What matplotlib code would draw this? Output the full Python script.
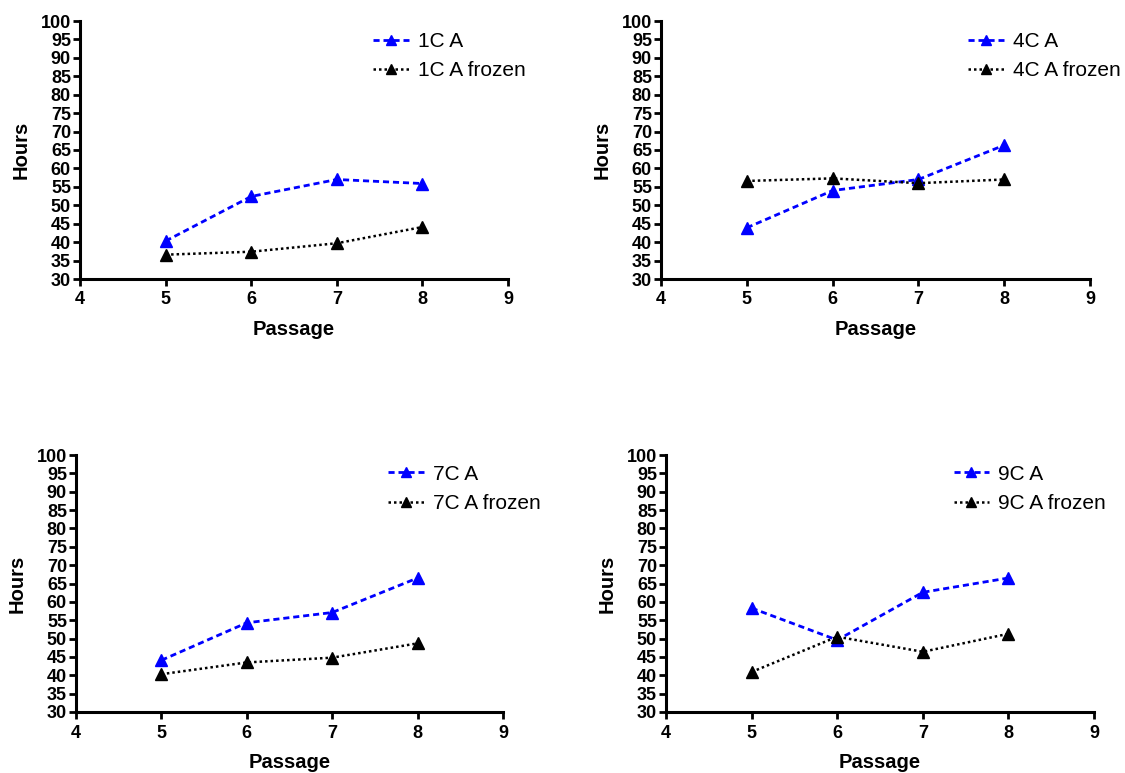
import matplotlib
matplotlib.use("Agg")
import matplotlib.pyplot as plt

plt.rcParams['font.family'] = ['Liberation Sans', 'DejaVu Sans']

passage = [5, 6, 7, 8]
x_ticks = [4, 5, 6, 7, 8, 9]
y_ticks = list(range(30, 101, 5))

labels_fresh = ["1C A", "4C A", "7C A", "9C A"]
labels_frozen = ["1C A frozen", "4C A frozen", "7C A frozen", "9C A frozen"]

hours_1c = [40.3, 52.4, 57.0, 55.9]
hours_1c_frozen = [36.6, 37.4, 39.7, 44.1]
hours_4c = [43.9, 54.0, 57.0, 66.3]
hours_4c_frozen = [56.6, 57.3, 56.0, 57.0]
hours_7c = [44.1, 54.3, 57.1, 66.5]
hours_7c_frozen = [40.3, 43.5, 44.8, 48.7]
hours_9c = [58.3, 49.6, 62.6, 66.5]
hours_9c_frozen = [40.9, 50.5, 46.4, 51.3]

fresh = [hours_1c, hours_4c, hours_7c, hours_9c]
frozen = [hours_1c_frozen, hours_4c_frozen, hours_7c_frozen, hours_9c_frozen]

W, H = 1125, 773
fig = plt.figure(figsize=(W / 100, H / 100), dpi=100)

# axes boxes in pixels: left, top, right, bottom
boxes = [(80, 21, 508, 279), (661, 21, 1090, 279),
         (76, 455, 503, 712), (666, 455, 1094, 712)]
legend_pos = [(0.685, 0.958), (0.716, 0.958), (0.731, 0.962), (0.672, 0.962)]

for i, (l, t, r, b) in enumerate(boxes):
    ax = fig.add_axes([l / W, (H - b) / H, (r - l) / W, (b - t) / H])
    ax.plot(passage, fresh[i], color='#0000FF', linestyle=(0, (2.2, 1.4)), linewidth=2.0,
            marker='^', markersize=8, markeredgecolor='#0000FF', label=labels_fresh[i], clip_on=False)
    ax.plot(passage, frozen[i], color='black', linestyle=(0, (1, 1.2)), linewidth=1.8,
            marker='^', markersize=8, label=labels_frozen[i], clip_on=False)
    ax.set_xlim(4, 9)
    ax.set_ylim(30, 100)
    ax.set_xticks(x_ticks)
    ax.set_yticks(y_ticks)
    for s in ['top', 'right']:
        ax.spines[s].set_visible(False)
    for s in ['left', 'bottom']:
        ax.spines[s].set_linewidth(2.2)
    ax.tick_params(direction='out', length=5, width=2.0, labelsize=13)
    ax.tick_params(axis='x', pad=4)
    ax.tick_params(axis='y', pad=1.5)
    for lab in ax.get_xticklabels() + ax.get_yticklabels():
        lab.set_fontweight('bold')
    ax.set_xlabel('Passage', fontsize=14.5, fontweight='bold', labelpad=8)
    ax.set_ylabel('Hours', fontsize=14.5, fontweight='bold', labelpad=7)
    ax.legend(loc='upper left', bbox_to_anchor=legend_pos[i], frameon=False,
              fontsize=15, handlelength=1.7, handletextpad=0.45, borderpad=0,
              borderaxespad=0, labelspacing=0.5, markerscale=0.85)

fig.savefig('out.png', dpi=100)
